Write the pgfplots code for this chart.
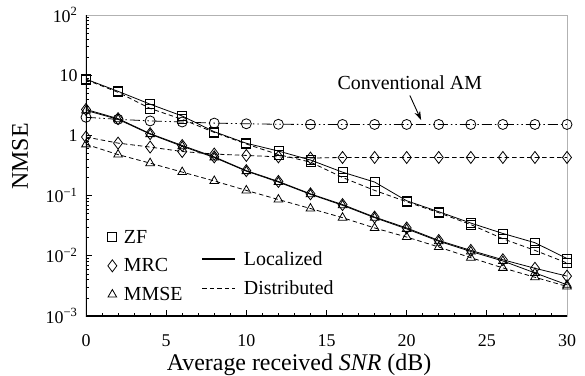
\documentclass[border=0pt]{standalone}
\usepackage{fontspec}
\setmainfont{Liberation Serif}
\usepackage{pgfplots}
\pgfplotsset{compat=1.18}
\usetikzlibrary{arrows.meta}

\pgfplotstableread{
x   zfl     zfd     mrcl    mrcd   mmsel   mmsed   am
0   8.6     8.4     2.7     0.94   2.6     0.71    2.0
2   5.4     5.2     1.9     0.745  1.85    0.48    1.85
4   3.3     2.8     1.07    0.64   1.05    0.346   1.74
6   2.1     1.85    0.68    0.54   0.66    0.246   1.67
8   1.15    1.12    0.44    0.49   0.43    0.175   1.6
10  0.74    0.72    0.26    0.465  0.255   0.122   1.56
12  0.55    0.48    0.172   0.44   0.168   0.086   1.53
14  0.39    0.36    0.107   0.42   0.105   0.061   1.52
16  0.245   0.20    0.071   0.43   0.069   0.043   1.52
18  0.168   0.122   0.044   0.43   0.043   0.029   1.52
20  0.082   0.079   0.029   0.43   0.028   0.0205  1.52
22  0.054   0.052   0.018   0.43   0.0175  0.014   1.52
24  0.035   0.033   0.0123  0.43   0.0118  0.0093  1.52
26  0.0235  0.0192  0.0086  0.43   0.0082  0.0063  1.52
28  0.0165  0.0123  0.0062  0.43   0.0052  0.0044  1.52
30  0.009   0.0076  0.0046  0.43   0.0033  0.0031  1.52
}\datatable

\tikzset{
  dist/.style={dash pattern=on 4.5bp off 3bp},
  amstyle/.style={dash pattern=on 10bp off 3bp on 1.5bp off 3bp on 1.5bp off 3bp},
}

\begin{document}
\begin{tikzpicture}
\useasboundingbox (-86bp,-60bp) rectangle (499bp,316bp);
\begin{axis}[
  at={(0,0)}, anchor=south west,
  scale only axis, width=481bp, height=301bp,
  xmin=0, xmax=30, ymode=log, ymin=1e-3, ymax=1e2,
  xtick={0,5,...,30}, xticklabels={0,5,10,15,20,25,30},
  minor x tick num=4,
  ytick={1e-3,1e-2,1e-1,1,10,100},
  yticklabels={10\textsuperscript{−3},10\textsuperscript{−2},10\textsuperscript{−1},1,10,10\textsuperscript{2}},
  tick align=inside, xtick pos=bottom, ytick pos=left,
  major tick length=6bp, minor tick length=3.5bp,
  axis line style={draw=gray!60, line width=0.8pt},
  every tick/.style={black, line width=0.7pt},
  ticklabel style={font=\fontsize{18}{20}\selectfont},
  xticklabel style={yshift=-15bp},
  yticklabel style={xshift=-5bp},
  xlabel={Average received \textit{SNR} (dB)},
  ylabel={NMSE},
  label style={font=\fontsize{24}{26}\selectfont},
  xlabel style={at={(axis description cs:0.443,-0.162)}, anchor=center},
  ylabel style={at={(axis description cs:-0.137,0.53)}, anchor=center},
  legend style={at={(rel axis cs:0.045,0.293)}, anchor=north west, draw=none, fill=none,
    font=\fontsize{20}{22}\selectfont, row sep=10bp, column sep=5bp, inner sep=0pt},
  legend cell align=left,
  every axis plot/.append style={black, line width=0.8pt, mark options={solid, line width=0.8pt, fill=white}},
]
\addplot[mark=square, mark size=4.5bp, forget plot] table[x=x,y=zfl] {\datatable};
\addplot[dist, mark=square, mark size=4.5bp, forget plot] table[x=x,y=zfd] {\datatable};
\addplot[amstyle, mark=o, mark size=5bp, forget plot] table[x=x,y=am] {\datatable};
\addplot[dist, mark=diamond, mark size=6bp, forget plot] table[x=x,y=mrcd] {\datatable};
\addplot[dist, mark=triangle, mark size=5bp, forget plot] table[x=x,y=mmsed] {\datatable};
\addplot[mark=diamond, mark size=6bp, mark options={fill=none}, forget plot] table[x=x,y=mrcl] {\datatable};
\addplot[mark=triangle, mark size=5bp, mark options={fill=none}, forget plot] table[x=x,y=mmsel] {\datatable};

\addlegendimage{only marks, mark=square, mark size=4.5bp}
\addlegendentry{ZF}
\addlegendimage{only marks, mark=diamond, mark size=6bp}
\addlegendentry{MRC}
\addlegendimage{only marks, mark=triangle, mark size=5bp}
\addlegendentry{MMSE}

\node[font=\fontsize{20}{22}\selectfont] at (axis cs:20.2,7.6) {Conventional AM};
\draw[-{Stealth[length=9bp,width=6bp]}, line width=0.9pt] (axis cs:20.2,4.6) -- (axis cs:20.9,1.8);
\draw[black, line width=2bp] (rel axis cs:0,1) -- (rel axis cs:0,0) -- (rel axis cs:1,0);
\end{axis}

\begin{axis}[
  at={(0,0)}, anchor=south west,
  scale only axis, width=481bp, height=301bp,
  xmin=0, xmax=30, ymin=0, ymax=1, hide axis,
  legend style={at={(rel axis cs:0.24,0.222)}, anchor=north west, draw=none, fill=none,
    font=\fontsize{20}{22}\selectfont, row sep=10bp, column sep=6bp, inner sep=0pt},
  legend cell align=left,
  legend image code/.code={\draw[#1] (0bp,0bp) -- (33bp,0bp);},
]
\addlegendimage{black, line width=1.3pt}
\addlegendentry{Localized}
\addlegendimage{black, line width=0.8pt, dash pattern=on 4.5bp off 3bp}
\addlegendentry{Distributed}
\end{axis}
\end{tikzpicture}
\end{document}
